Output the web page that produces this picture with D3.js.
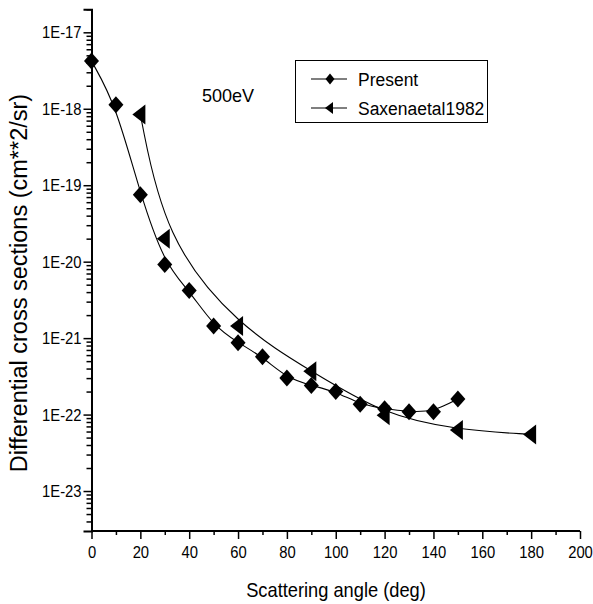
<!DOCTYPE html>
<html>
<head>
<meta charset="utf-8">
<script src="https://cdn.jsdelivr.net/npm/d3@7"></script>
<style>
  html, body { margin: 0; padding: 0; background: #fff; }
  svg { display: block; font-family: "Liberation Sans", Arial, sans-serif; }
</style>
</head>
<body>
<svg id="chart" width="593" height="604"></svg>
<script>
// ---- data ----
const presentAngles = [0, 10, 20, 30, 40, 50, 60, 70, 80, 90, 100, 110, 120, 130, 140, 150];
const presentValues = [4.2e-18, 1.13e-18, 7.5e-20, 9.2e-21, 4.2e-21, 1.44e-21, 8.7e-22, 5.7e-22,
                       3.0e-22, 2.4e-22, 2.0e-22, 1.36e-22, 1.19e-22, 1.09e-22, 1.09e-22, 1.6e-22];
const saxenaAngles = [20, 30, 60, 90, 120, 150, 180];
const saxenaValues = [8.4e-19, 2.0e-20, 1.44e-21, 3.7e-22, 9.8e-23, 6.3e-23, 5.5e-23];
const xTicks = [0, 20, 40, 60, 80, 100, 120, 140, 160, 180, 200];
const xMinorTicks = [10, 30, 50, 70, 90, 110, 130, 150, 170, 190];
const yTicks = [1e-17, 1e-18, 1e-19, 1e-20, 1e-21, 1e-22, 1e-23];
const yTickLabels = ["1E-17", "1E-18", "1E-19", "1E-20", "1E-21", "1E-22", "1E-23"];
const seriesNames = ["Present", "Saxenaetal1982"];
const energyLabel = "500eV";
const xTitle = "Scattering angle (deg)";
const yTitle = "Differential cross sections (cm**2/sr)";

// ---- layout ----
const svg = d3.select("#chart");
const x = d3.scaleLinear().domain([0, 200]).range([91.5, 580]);
const y = d3.scaleLog().domain([3e-24, 2e-17]).range([531, 9.3]);
const NARROW = 0.87;   // horizontal condensing of the reference's lettering

// minor y ticks
const yMinor = [];
for (let e = -24; e <= -17; e++) {
  for (let k = 2; k <= 9; k++) {
    const v = k * Math.pow(10, e);
    if (v >= 3e-24 && v <= 2.01e-17) yMinor.push(v);
  }
}

// ---- axes ----
const yAxisMinor = svg.append("g").attr("transform", `translate(${x(0)},0)`)
  .call(d3.axisLeft(y).tickValues(yMinor).tickSize(5).tickFormat(""));
const yAxis = svg.append("g").attr("transform", `translate(${x(0)},0)`)
  .call(d3.axisLeft(y).tickValues(yTicks).tickSize(8).tickPadding(2)
        .tickFormat((d, i) => yTickLabels[i]));
const xAxisMinor = svg.append("g").attr("transform", `translate(0,${y.range()[0]})`)
  .call(d3.axisBottom(x).tickValues(xMinorTicks).tickSize(4).tickFormat(""));
const xAxis = svg.append("g").attr("transform", `translate(0,${y.range()[0]})`)
  .call(d3.axisBottom(x).tickValues(xTicks).tickSize(8).tickPadding(7));

[yAxisMinor, yAxis, xAxisMinor, xAxis].forEach(g => {
  g.selectAll(".domain").attr("stroke", "#000").attr("stroke-width", 2);
  g.selectAll(".tick line").attr("stroke", "#000").attr("stroke-width", 1.5);
  g.selectAll("text").attr("fill", "#000").style("font-size", "17px")
    .style("font-family", '"Liberation Sans", Arial, sans-serif');
});
yAxisMinor.select(".domain").remove();
xAxisMinor.select(".domain").remove();
xAxis.select(".domain").attr("d", `M${x(0)},0H${x(200)}`);

// condense tick label glyphs horizontally, keeping their anchor point
yAxis.selectAll(".tick text").each(function () {
  const t = d3.select(this);
  const tx = +t.attr("x");
  t.attr("x", 0).attr("transform", `translate(${tx},0) scale(${NARROW},1)`);
});
xAxis.selectAll(".tick text").attr("transform", `scale(${NARROW},1)`);

// ---- curves ----
const line = d3.line().x(d => x(d[0])).y(d => y(d[1])).curve(d3.curveBasis);
const presentPts = presentAngles.map((a, i) => [a, presentValues[i]]);
const saxenaPts = saxenaAngles.map((a, i) => [a, saxenaValues[i]]);

svg.append("path").datum(presentPts).attr("d", line)
  .attr("fill", "none").attr("stroke", "#000").attr("stroke-width", 1.1);
svg.append("path").datum(saxenaPts).attr("d", line)
  .attr("fill", "none").attr("stroke", "#000").attr("stroke-width", 1.1);

const diamond = (w, h) => `M0,${-h}L${w},0L0,${h}L${-w},0Z`;
const leftTri = (l, r, h) => `M${-l},0L${r},${-h}L${r},${h}Z`;

svg.append("g").selectAll("path").data(presentPts).join("path")
  .attr("d", diamond(7.5, 8.5))
  .attr("transform", d => `translate(${x(d[0])},${y(d[1])})`)
  .attr("fill", "#000");
svg.append("g").selectAll("path").data(saxenaPts).join("path")
  .attr("d", leftTri(8, 5, 10))
  .attr("transform", d => `translate(${x(d[0])},${y(d[1])})`)
  .attr("fill", "#000");

// ---- legend ----
const lg = svg.append("g");
lg.append("rect").attr("x", 295.5).attr("y", 60.5).attr("width", 192).attr("height", 62)
  .attr("fill", "#fff").attr("stroke", "#000").attr("stroke-width", 1);
const rows = [79, 108];
seriesNames.forEach((name, i) => {
  const ry = rows[i];
  lg.append("line").attr("x1", 311).attr("x2", 347).attr("y1", ry).attr("y2", ry)
    .attr("stroke", "#000").attr("stroke-width", 1.1);
  lg.append("path")
    .attr("d", i === 0 ? diamond(4.5, 5.5) : leftTri(5, 3, 6))
    .attr("transform", `translate(330,${ry})`).attr("fill", "#000");
  lg.append("text").attr("transform", `translate(358,${ry + 7}) scale(0.92,1)`).text(name)
    .style("font-size", "19px").attr("fill", "#000");
});

// ---- annotation & titles ----
svg.append("text").attr("transform", "translate(202,101.5) scale(0.95,1)").text(energyLabel)
  .style("font-size", "19px").attr("fill", "#000");

svg.append("text").attr("transform", `translate(336,597) scale(${NARROW},1)`)
  .attr("text-anchor", "middle")
  .text(xTitle).style("font-size", "21px").attr("fill", "#000");

svg.append("text").attr("transform", "translate(27,283) rotate(-90)")
  .attr("text-anchor", "middle").text(yTitle)
  .style("font-size", "23.5px").attr("fill", "#000");
</script>
</body>
</html>
